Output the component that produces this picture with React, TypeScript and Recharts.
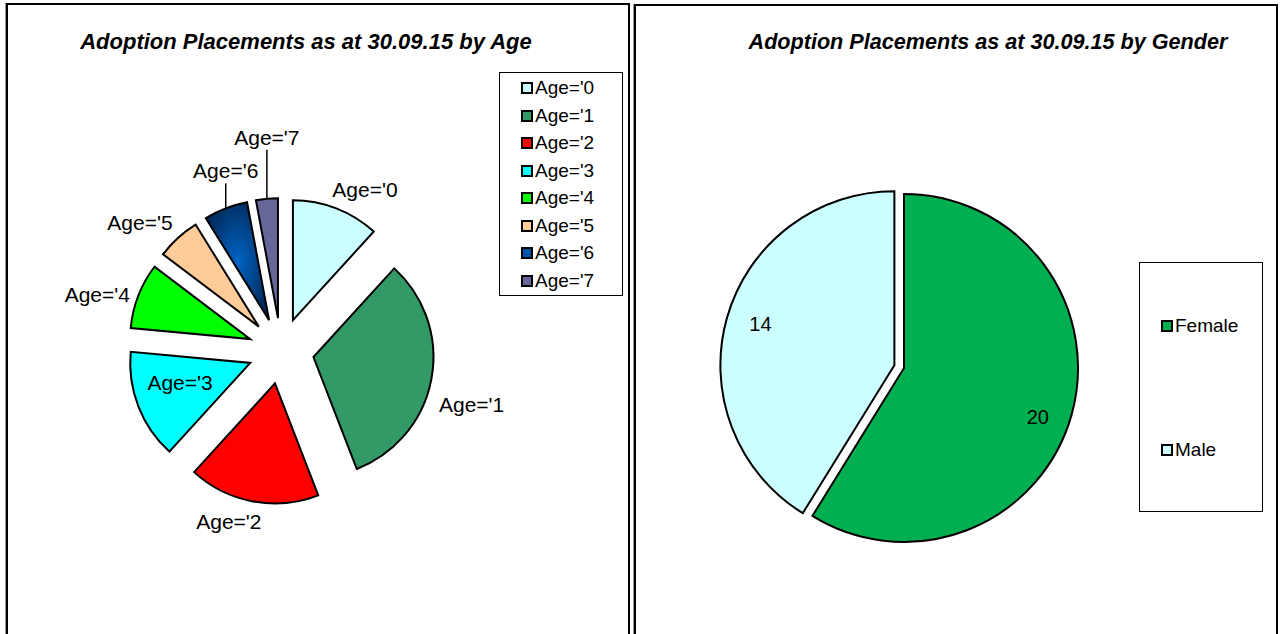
import React from "react";
import { PieChart, Pie, Cell, Sector } from "recharts";

const ageNames = ["Age='0", "Age='1", "Age='2", "Age='3", "Age='4", "Age='5", "Age='6", "Age='7"];
const ageCounts = [4, 11, 6, 5, 3, 2, 2, 1];
const ageColors = ["#CCFFFF", "#339966", "#FF0000", "#00FFFF", "#00FF00", "#FFCC99", "#0055AA", "#666699"];

const genderNames = ["Female", "Male"];
const genderCounts = [20, 14];
const genderColors = ["#00B050", "#CCFFFF"];

const FONT = "'Liberation Sans', Arial, sans-serif";
const RAD = Math.PI / 180;
const AGE_EXPLODE = 33;
const MALE_EXPLODE = 10;

const ageData = ageNames.map((name, i) => ({ name, value: ageCounts[i] }));
const genderData = genderNames.map((name, i) => ({ name, value: genderCounts[i] }));

const dir = (midAngle: number) => [Math.cos(-midAngle * RAD), Math.sin(-midAngle * RAD)];

const ageShape = (props: any) => {
  const [ux, uy] = dir(props.midAngle);
  const name = props.name ?? props.payload?.name;
  const cx = props.cx + AGE_EXPLODE * ux;
  const cy = props.cy + AGE_EXPLODE * uy;
  if (name === "Age='6") {
    return (
      <g>
        <defs>
          <radialGradient id="age6grad" cx="50%" cy="50%" r="60%">
            <stop offset="0%" stopColor="#0064C4" />
            <stop offset="100%" stopColor="#002552" />
          </radialGradient>
        </defs>
        <Sector {...props} cx={cx} cy={cy} fill="url(#age6grad)" />
      </g>
    );
  }
  return <Sector {...props} cx={cx} cy={cy} />;
};

const genderShape = (props: any) => {
  const name = props.name ?? props.payload?.name;
  const d = name === "Male" ? MALE_EXPLODE : 0;
  const [ux, uy] = dir(props.midAngle);
  return <Sector {...props} cx={props.cx + d * ux} cy={props.cy + d * uy} />;
};

// leader line lengths for the two thin slices at the top
const leaders: Record<string, number> = { "Age='6": 25, "Age='7": 49 };
// small placement nudges, the way the original spreadsheet fitted its labels
const ageNudge: Record<string, [number, number]> = {
  "Age='0": [19, 7],
  "Age='1": [0, 18],
  "Age='2": [-20, -1],
  "Age='3": [-3, -6],
  "Age='4": [-3, 14],
  "Age='5": [-14, 11],
};

const ageLabel = (props: any) => {
  const { cx, cy, midAngle, outerRadius } = props;
  const name = props.name ?? props.payload?.name;
  const [ux, uy] = dir(midAngle);
  const base = outerRadius + AGE_EXPLODE;
  const style = { fontFamily: FONT, fontSize: 21, fill: "#000" };
  const [nx, ny] = ageNudge[name] ?? [0, 0];
  if (name === "Age='3") {
    const r = AGE_EXPLODE + outerRadius * 0.6;
    return (
      <text x={cx + r * ux + nx} y={cy + r * uy + ny} dy="0.35em" textAnchor="middle" style={style}>
        {name}
      </text>
    );
  }
  if (leaders[name]) {
    const ex = cx + base * ux;
    const ey = cy + base * uy;
    const L = leaders[name];
    return (
      <g>
        <line x1={ex} y1={ey} x2={ex} y2={ey - L} stroke="#000" strokeWidth={1.5} />
        <text x={ex} y={ey - L - 5} textAnchor="middle" style={style}>
          {name}
        </text>
      </g>
    );
  }
  const ext = 32 * Math.abs(ux) + 8 * Math.abs(uy);
  const r = base + 8 + ext;
  return (
    <text x={cx + r * ux + nx} y={cy + r * uy + ny} dy="0.35em" textAnchor="middle" style={style}>
      {name}
    </text>
  );
};

const genderLabel = (props: any) => {
  const { cx, cy, midAngle, outerRadius, value } = props;
  const name = props.name ?? props.payload?.name;
  const d = name === "Male" ? MALE_EXPLODE : 0;
  const ny = name === "Male" ? -3 : 11;
  const [ux, uy] = dir(midAngle);
  const r = d + outerRadius * 0.8;
  return (
    <text x={cx + r * ux} y={cy + r * uy + ny} dy="0.35em" textAnchor="middle"
      style={{ fontFamily: FONT, fontSize: 20, fill: "#000" }}>
      {value}
    </text>
  );
};

const titleStyle: React.CSSProperties = {
  position: "absolute",
  top: 31,
  width: 600,
  textAlign: "center",
  fontFamily: FONT,
  fontSize: 22,
  lineHeight: "22px",
  fontWeight: "bold",
  fontStyle: "italic",
  color: "#000",
  whiteSpace: "nowrap",
};

function LegendBox({ names, colors, left, top, width, height, rows }: any) {
  return (
    <div style={{ position: "absolute", left, top, width, height, border: "1px solid #000", boxSizing: "border-box", background: "#fff" }}>
      {names.map((n: string, i: number) => (
        <div key={n} style={{ position: "absolute", left: 21, top: rows[i] - 10, height: 20, display: "flex", alignItems: "center", fontFamily: FONT, fontSize: 19, whiteSpace: "nowrap" }}>
          <span style={{ display: "inline-block", width: 8, height: 8, border: "2px solid #000", background: colors[i], marginRight: 2 }} />
          {n}
        </div>
      ))}
    </div>
  );
}

export default function App() {
  return (
    <div style={{ position: "absolute", left: 0, top: 0, width: 1280, height: 634, overflow: "hidden", background: "#fff" }}>
      <div style={{ position: "absolute", left: 6, top: 3, width: 624, height: 700, border: "2px solid #000", boxSizing: "border-box", boxShadow: "-1px 0 0 #999" }} />
      <div style={{ position: "absolute", left: 634, top: 4, width: 644, height: 700, border: "2px solid #000", boxSizing: "border-box", boxShadow: "-1px 0 0 #999" }} />

      <div style={{ ...titleStyle, left: 6 }}>Adoption Placements as at 30.09.15 by Age</div>
      <div style={{ ...titleStyle, left: 688, fontSize: 21.6 }}>Adoption Placements as at 30.09.15 by Gender</div>

      <div style={{ position: "absolute", left: 0, top: 0 }}>
        <PieChart width={630} height={634} margin={{ top: 0, right: 0, bottom: 0, left: 0 }}>
          <Pie
            data={ageData}
            dataKey="value"
            nameKey="name"
            cx={281}
            cy={351}
            outerRadius={120}
            startAngle={90}
            endAngle={-270}
            stroke="#000"
            strokeWidth={2}
            isAnimationActive={false}
            inactiveShape={ageShape}
            shape={ageShape}
            label={ageLabel}
            labelLine={false}
          >
            {ageData.map((d, i) => (
              <Cell key={d.name} fill={ageColors[i]} />
            ))}
          </Pie>
        </PieChart>
      </div>

      <div style={{ position: "absolute", left: 634, top: 0 }}>
        <PieChart width={644} height={634} margin={{ top: 0, right: 0, bottom: 0, left: 0 }}>
          <Pie
            data={genderData}
            dataKey="value"
            nameKey="name"
            cx={270}
            cy={368}
            outerRadius={174}
            startAngle={90}
            endAngle={-270}
            stroke="#000"
            strokeWidth={2}
            isAnimationActive={false}
            inactiveShape={genderShape}
            shape={genderShape}
            label={genderLabel}
            labelLine={false}
          >
            {genderData.map((d, i) => (
              <Cell key={d.name} fill={genderColors[i]} />
            ))}
          </Pie>
        </PieChart>
      </div>

      <LegendBox names={ageNames} colors={ageColors} left={499} top={72} width={124} height={224}
        rows={[15, 42.5, 70, 97.5, 125, 152.5, 180, 207.5]} />
      <LegendBox names={genderNames} colors={genderColors} left={1139} top={262} width={124} height={250}
        rows={[63, 187]} />
    </div>
  );
}
